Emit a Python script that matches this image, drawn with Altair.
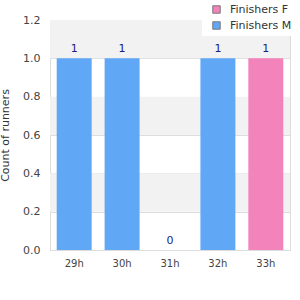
import altair as alt
import pandas as pd

hours = ["29h", "30h", "31h", "32h", "33h"]
counts = [1, 1, 0, 1, 1]
groups = ["Finishers M", "Finishers M", "Finishers M", "Finishers M", "Finishers F"]
legend_order = ["Finishers F", "Finishers M"]
colors = ["#f384bb", "#60a8f5"]
band_lo = [0.2, 0.6, 1.0]
band_hi = [0.4, 0.8, 1.2]
y_ticks = [0, 0.2, 0.4, 0.6, 0.8, 1.0, 1.2]

df = pd.DataFrame({"hour": hours, "count": counts, "group": groups})
bands = pd.DataFrame({"lo": band_lo, "hi": band_hi})

FONT = "DejaVu Sans"

y_scale = alt.Scale(domain=[0, 1.2], nice=False)

y_axis = alt.Axis(values=y_ticks, format=".1f",
                  grid=True, gridColor="#dddddd", ticks=False, domain=False,
                  labelOverlap=False, labelFlush=False,
                  labelPadding=10, labelFontSize=11, labelColor="#444444",
                  titleFontSize=11, titleFontWeight="normal", titleColor="#333333",
                  titlePadding=12, labelFont=FONT, titleFont=FONT)

bg = alt.Chart(bands).mark_rect(color="#f2f2f2").encode(
    x=alt.value(0), x2=alt.value("width"),
    y=alt.Y("lo:Q", scale=y_scale, title="Count of runners", axis=y_axis),
    y2="hi:Q",
)

bars = alt.Chart(df).mark_bar().encode(
    x=alt.X("hour:N", sort=hours, title=None,
            scale=alt.Scale(paddingInner=0.27, paddingOuter=0.14),
            axis=alt.Axis(labelAngle=0, ticks=False, domain=False, labelPadding=8,
                          labelFontSize=10, labelColor="#444444", labelFont=FONT)),
    y=alt.Y("count:Q", scale=y_scale, title="Count of runners", axis=y_axis),
    color=alt.Color("group:N", scale=alt.Scale(domain=legend_order, range=colors),
                    legend=alt.Legend(title=None, orient="none", legendX=152, legendY=-20,
                                      fillColor="white", padding=4, symbolType="square",
                                      symbolSize=55, symbolStrokeColor="#777777",
                                      symbolStrokeWidth=1, labelFontSize=11,
                                      labelColor="#333333", labelFont=FONT,
                                      rowPadding=3, symbolOffset=5, labelOffset=8)),
)

text = alt.Chart(df).mark_text(baseline="bottom", dy=-4, color="#1a1a88",
                               fontSize=11, font=FONT).encode(
    x=alt.X("hour:N", sort=hours),
    y=alt.Y("count:Q", scale=y_scale, title="Count of runners", axis=y_axis),
    text="count:Q",
)

chart = alt.layer(bg, bars, text).properties(
    width=240, height=230,
    autosize=alt.AutoSizeParams(type="none"),
    padding={"left": 50, "top": 20, "right": 10, "bottom": 50},
).configure_view(stroke="#dddddd", strokeWidth=1).configure_axisY(labelOverlap=False)

chart.save("out.html", embed_options={"renderer": "svg", "actions": False})
